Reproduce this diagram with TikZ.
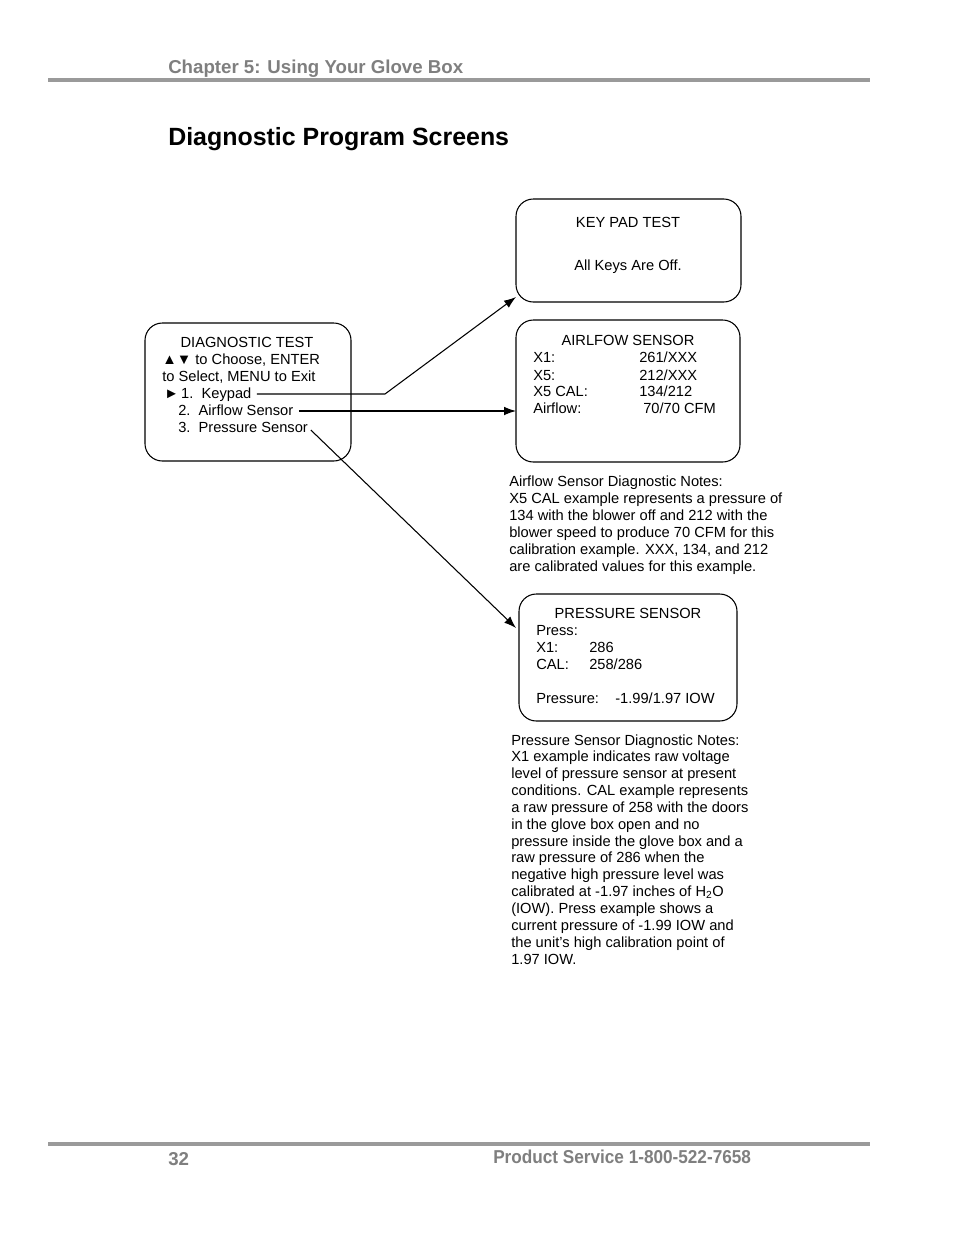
\documentclass[tikz,border=0pt]{standalone}
\usepackage{fontspec}
\setmainfont{Liberation Sans}
\usetikzlibrary{arrows.meta}
\definecolor{rulegray}{HTML}{9A9A9A}
\definecolor{headgray}{HTML}{7F7F7F}
\tikzset{
  txt/.style={inner sep=0pt, anchor=base west, font=\fontsize{11}{13}\selectfont},
  ctxt/.style={txt, anchor=base},
  screen/.style={draw, line width=0.8pt, rounded corners=13pt},
  conn/.style={line width=0.8pt},
  arr/.style={conn, -{Latex[length=9pt,width=6.5pt]}},
  hrule/.style={draw=rulegray, line width=2.6pt},
  headtxt/.style={inner sep=0pt, anchor=base west, text=headgray, font=\bfseries\fontsize{14}{16}\selectfont},
}
\begin{document}
\begin{tikzpicture}[x=0.75pt,y=-0.75pt]
\useasboundingbox[fill=white] (0,0) rectangle (954,1235);
% header / footer
\node[headtxt] (chap) at (168,73) {Chapter 5: Using Your Glove Box};
\draw[hrule] (48,80) -- (870,80);
\node[inner sep=0pt, anchor=base west, font=\bfseries\fontsize{18.7}{22}\selectfont] (title) at (168,145) {Diagnostic Program Screens};
\draw[hrule] (48,1144) -- (870,1144);
\node[headtxt] (pg) at (168,1165) {32};
\node[headtxt, xscale=0.92] (svc) at (493,1163) {Product Service 1-800-522-7658};

% screens
\draw[screen] (145,323) rectangle (351,461);
\draw[screen] (516,199) rectangle (741,302);
\draw[screen] (516,320) rectangle (740,462);
\draw[screen] (519,594) rectangle (737,721);
\coordinate (keyin) at (516,297);
\coordinate (airin) at (516,411);
\coordinate (presin) at (516,628);

% diagnostic test text
\node[ctxt] (d1) at (247,347) {DIAGNOSTIC TEST};
\node[txt] (d2) at (162,364) {▲▼ to Choose, ENTER};
\node[txt] (d3) at (162,381) {to Select, MENU to Exit};
\node[txt] (d4) at (164,398) {►\,1.\ \ Keypad};
\node[txt] (d5) at (178,415) {2.\ \ Airflow Sensor};
\node[txt] (d6) at (178,432) {3.\ \ Pressure Sensor};

% key pad text
\node[ctxt] (k1) at (628,227) {KEY PAD TEST};
\node[ctxt] (k2) at (628,270) {All Keys Are Off.};

% airflow text
\node[ctxt] (a0) at (628,345) {AIRLFOW SENSOR};
\node[txt] (a1) at (533,362) {X1:};
\node[txt] (a1v) at (639,362) {261/XXX};
\node[txt] (a2) at (533,380) {X5:};
\node[txt] (a2v) at (639,380) {212/XXX};
\node[txt] (a3) at (533,396) {X5 CAL:};
\node[txt] (a3v) at (639,396) {134/212};
\node[txt] (a4) at (533,413) {Airflow:};
\node[txt] (a4v) at (643,413) {70/70 CFM};

% airflow notes
\foreach \t [count=\i from 0] in {Airflow Sensor Diagnostic Notes:,
  X5 CAL example represents a pressure of,
  134 with the blower off and 212 with the,
  blower speed to produce 70 CFM for this,
  {calibration example. XXX, 134, and 212},
  are calibrated values for this example.}
  \node[txt] (an\i) at (509,486+17*\i) {\t};

% pressure text
\node[ctxt] (p0) at (628,618) {PRESSURE SENSOR};
\node[txt] (p1) at (536,635) {Press:};
\node[txt] (p2) at (536,652) {X1:};
\node[txt] (p2v) at (589,652) {286};
\node[txt] (p3) at (536,669) {CAL:};
\node[txt] (p3v) at (589,669) {258/286};
\node[txt] (p4) at (536,703) {Pressure:};
\node[txt] (p4v) at (615,703) {-1.99/1.97 IOW};

% pressure notes
\foreach \t [count=\i from 0] in {Pressure Sensor Diagnostic Notes:,
  X1 example indicates raw voltage,
  level of pressure sensor at present,
  conditions. CAL example represents,
  a raw pressure of 258 with the doors,
  in the glove box open and no,
  pressure inside the glove box and a,
  raw pressure of 286 when the,
  negative high pressure level was,
  calibrated at -1.97 inches of H\textsubscript{2}O,
  (IOW). Press example shows a,
  current pressure of -1.99 IOW and,
  the unit’s high calibration point of,
  1.97 IOW.}
  \node[txt] (pn\i) at (511,745+16.85*\i) {\t};

% connectors
\draw[arr] ([xshift=4pt,yshift=3pt]d4.base east) -- (385,394) -- (keyin);
\draw[arr] ([xshift=4pt,yshift=3pt]d5.base east) -- (airin);
\draw[arr] ([xshift=2pt,yshift=1.5pt]d6.base east) -- (presin);
\end{tikzpicture}
\end{document}
